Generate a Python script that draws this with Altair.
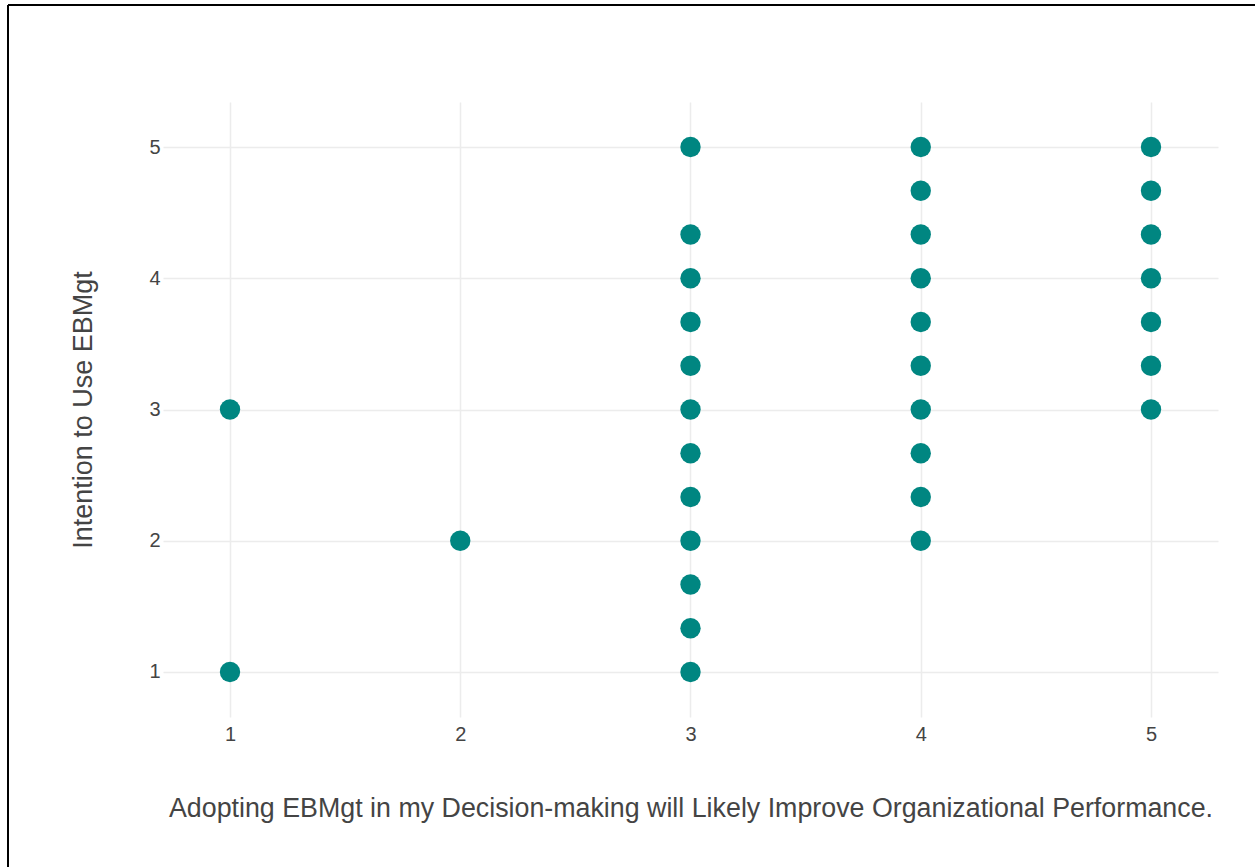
import altair as alt
import pandas as pd

# Data
x_vals = [1, 1,
          2,
          3, 3, 3, 3, 3, 3, 3, 3, 3, 3, 3, 3,
          4, 4, 4, 4, 4, 4, 4, 4, 4, 4,
          5, 5, 5, 5, 5, 5, 5]
y_vals = [3, 1,
          2,
          5, 4.333, 4, 3.667, 3.333, 3, 2.667, 2.333, 2, 1.667, 1.333, 1,
          5, 4.667, 4.333, 4, 3.667, 3.333, 3, 2.667, 2.333, 2,
          5, 4.667, 4.333, 4, 3.667, 3.333, 3]
tick_values = [1, 2, 3, 4, 5]

x_title = "Adopting EBMgt in my Decision-making will Likely Improve Organizational Performance."
y_title = "Intention to Use EBMgt"

df = pd.DataFrame({"x": x_vals, "y": y_vals})

W, H = 1055, 615
PAD_L, PAD_T = 163, 102

points = alt.Chart(df).mark_circle(size=415, opacity=1, color="#008681").encode(
    x=alt.X("x:Q", title=x_title,
            scale=alt.Scale(domain=[0.709, 5.291], nice=False, zero=False),
            axis=alt.Axis(values=tick_values, format="d", grid=True, gridColor="#ececec",
                          gridWidth=1.5, domain=False, ticks=False, labelPadding=7,
                          labelFontSize=20, labelColor="#444", labelFont="Liberation Sans",
                          titleFont="Liberation Sans", titleFontSize=26.8, titleFontWeight="normal",
                          titleColor="#444", titlePadding=51)),
    y=alt.Y("y:Q", title=y_title,
            scale=alt.Scale(domain=[0.657, 5.343], nice=False, zero=False),
            axis=alt.Axis(values=tick_values, format="d", grid=True, gridColor="#ececec",
                          gridWidth=1.5, domain=False, ticks=False, labelPadding=3,
                          labelFontSize=20, labelColor="#444", labelFont="Liberation Sans",
                          titleFont="Liberation Sans", titleFontSize=27, titleFontWeight="normal",
                          titleColor="#444", titlePadding=51)),
)

frame_df = pd.DataFrame({"k": [0]})
top_line = alt.Chart(frame_df).mark_rule(color="black", strokeWidth=2, clip=False).encode(
    x=alt.value(8 - PAD_L), x2=alt.value(1255 - PAD_L), y=alt.value(5 - PAD_T)
)
left_line = alt.Chart(frame_df).mark_rule(color="black", strokeWidth=2, clip=False).encode(
    x=alt.value(8 - PAD_L), y=alt.value(5 - PAD_T), y2=alt.value(867 - PAD_T)
)

chart = alt.layer(points, top_line, left_line).properties(
    width=W, height=H,
    padding={"left": PAD_L, "top": PAD_T, "right": 1255 - PAD_L - W, "bottom": 867 - PAD_T - H},
    autosize=alt.AutoSizeParams(type="none"),
    background="white",
).configure_view(stroke=None)

chart.save("out.html", embed_options={"renderer": "svg", "actions": False})
